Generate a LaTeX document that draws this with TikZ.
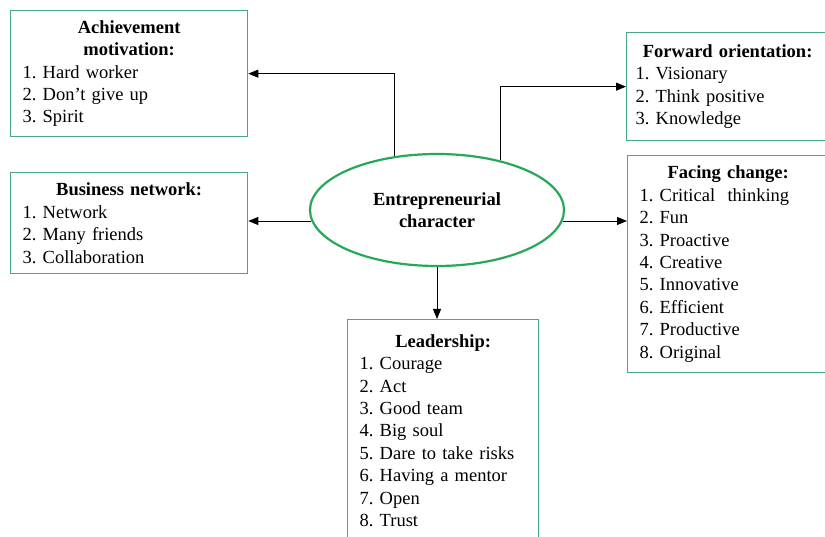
\documentclass[tikz,border=0pt]{standalone}
\usepackage{fontspec}
\setmainfont{Liberation Serif}
\usetikzlibrary{%
  positioning
 ,arrows.meta
 ,shapes
}
\definecolor{boxline}{RGB}{72,168,138}
\definecolor{ellline}{RGB}{38,168,88}
\tikzstyle{lst}=[rectangle,draw=boxline,line width=1.3pt,anchor=north west,inner xsep=12pt,inner ysep=3pt,font=\fontsize{18.5}{22.4}\selectfont\frenchspacing]
\tikzstyle{ell}=[ellipse,draw=ellline,line width=2.2pt,minimum width=254pt,minimum height=112pt,align=center,font=\fontsize{18.5}{22.4}\selectfont\bfseries]
\tikzstyle{arr}=[-{Triangle[length=10pt,width=8pt]},line width=0.9pt]
\newcommand{\lstbox}[2]{{\centering\bfseries #1\par}\raggedright #2}

\begin{document}
\begin{tikzpicture}[x=1pt,y=-1pt]
  \useasboundingbox (0,0) rectangle (825,537);
  % the five lists round the ellipse
  \node[lst,minimum width=237pt,minimum height=126pt,text width=213pt] (achv) at (10,10)
    {\lstbox{Achievement\\ motivation:}{1. Hard worker\\2. Don't give up\\3. Spirit}};
  \node[lst,minimum width=237pt,minimum height=101pt,text width=213pt] (biz) at (10,172)
    {\lstbox{Business network:}{1. Network\\2. Many friends\\3. Collaboration}};
  \node[lst,minimum width=202pt,minimum height=108pt,text width=184pt,inner xsep=9pt] (fwd) at (626,32)
    {\lstbox{Forward orientation:}{1. Visionary\\2. Think positive\\3. Knowledge}};
  \node[lst,minimum width=201pt,minimum height=217pt,text width=177pt] (fac) at (627,155)
    {\lstbox{Facing change:}{1. Critical\ \ thinking\\2. Fun\\3. Proactive\\4. Creative\\5. Innovative\\6. Efficient\\7. Productive\\8. Original}};
  \node[lst,minimum width=191pt,minimum height=222pt,text width=167pt] (lead) at (347,319)
    {\lstbox{Leadership:}{1. Courage\\2. Act\\3. Good team\\4. Big soul\\5. Dare to take risks\\6. Having a mentor\\7. Open\\8. Trust}};
  \node[ell] (ent) at (437,210) {Entrepreneurial\\character};
  % connectors
  \draw[arr] (ent.128) |- (achv.east);
  \draw[arr] (ent.38) |- (fwd.west);
  \draw[arr] (ent.185) -- (ent.185 -| biz.east);
  \draw[arr] (ent.-5) -- (ent.-5 -| fac.west);
  \draw[arr] (ent.south) -- (ent.south |- lead.north);
\end{tikzpicture}
\end{document}
